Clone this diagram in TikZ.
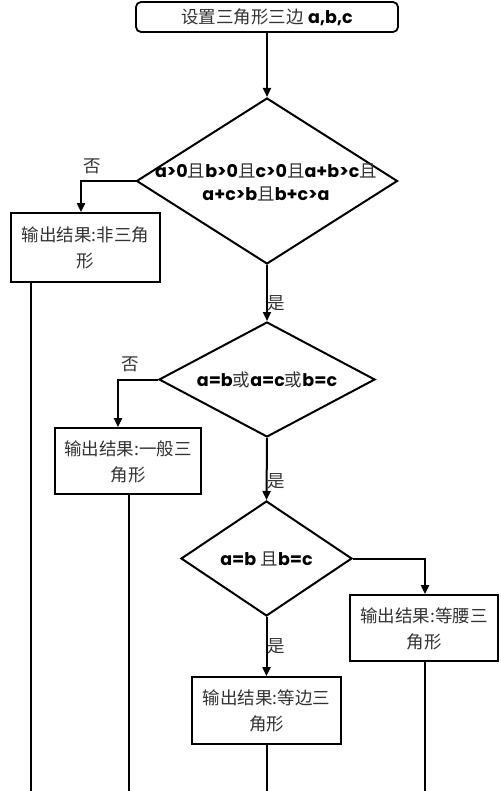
\documentclass[tikz,border=0pt]{standalone}
\usepackage{fontspec}
\setmainfont{Liberation Serif}
\newfontfamily\cjk{Noto Sans CJK SC}
\newfontfamily\lat{Poppins}
\usetikzlibrary{shapes.geometric,arrows.meta,calc}
\definecolor{txt}{HTML}{333333}
\tikzset{
  line/.style={line width=2pt, draw=black},
  arr/.style={line/.try, -{Triangle[length=9pt,width=8pt]}},
  boxnode/.style={draw=black, line width=1.8pt, rectangle, inner sep=0pt},
  dia/.style={draw=black, line width=2pt, diamond, inner sep=0pt},
  lbl/.style={font=\cjk\fontsize{17.5}{26}\selectfont, text=txt, align=center},
  dtext/.style={font=\fontsize{17.5}{23}\selectfont, align=center, text=black},
}
\newcommand{\B}[1]{{\lat\bfseries #1}}
\newcommand{\C}[1]{{\cjk\color{txt}#1}}
\begin{document}
\begin{tikzpicture}[x=1pt,y=-1pt]
\useasboundingbox (0,0) rectangle (500,791);
\fill[white] (0,0) rectangle (500,791);

% start box
\node[boxnode, rounded corners=5pt, minimum width=262pt, minimum height=30pt] (start) at (267,17) {};
\node[font=\fontsize{17.5}{20}\selectfont] (starttxt) at (267,17) {\C{设置三角形三边} \B{a,b,c}};

% diamond 1
\node[dia, minimum width=261pt, minimum height=166pt] (d1) at (267,181) {};
\node[dtext] (d1t) at (266,182) {\B{a>0}\C{且}\B{b>0}\C{且}\B{c>0}\C{且}\B{a+b>c}\C{且}\\\B{a+c>b}\C{且}\B{b+c>a}};

% box 1
\node[boxnode, minimum width=149pt, minimum height=69pt] (b1) at (85.5,247.5) {};
\node[lbl] (b1t) at (85.5,248) {输出结果:非三角\\形};

% diamond 2
\node[dia, minimum width=216pt, minimum height=115pt] (d2) at (267,379.5) {};
\node[dtext] (d2t) at (267,380) {\B{a=b}\C{或}\B{a=c}\C{或}\B{b=c}};

% box 2
\node[boxnode, minimum width=146pt, minimum height=66pt] (b2) at (128,461) {};
\node[lbl] (b2t) at (128,462) {输出结果:一般三\\角形};

% diamond 3
\node[dia, minimum width=171pt, minimum height=115pt] (d3) at (266.5,558.5) {};
\node[dtext] (d3t) at (266.5,559) {\B{a=b} \C{且}\B{b=c}};

% box 4 (isosceles)
\node[boxnode, minimum width=148pt, minimum height=66pt] (b4) at (424,628) {};
\node[lbl] (b4t) at (424,629) {输出结果:等腰三\\角形};

% box 3 (equilateral)
\node[boxnode, minimum width=149pt, minimum height=67pt] (b3) at (266.5,710.5) {};
\node[lbl] (b3t) at (266.5,711) {输出结果:等边三\\角形};

% labels
\node[lbl] (no1) at (92,166) {否};
\node[lbl] (no2) at (130,364) {否};
\node[lbl] (yes1) at (276,303) {是};
\node[lbl] (yes2) at (276,481) {是};
\node[lbl] (yes3) at (276,646) {是};

% bottom free ends
\coordinate (e1) at (31,791);
\coordinate (e2) at (129,791);
\coordinate (e3) at (267,791);
\coordinate (e4) at (425,791);

% connectors
\draw[arr] (start.south) -- (d1.north);
\draw[arr] (d1.west) -| ([xshift=-4.5pt]b1.north);
\draw[arr] (d1.south) -- (d2.north);
\draw[arr] (d2.west) -| ([xshift=-10pt]b2.north);
\draw[arr] (d2.south) -- (d3.north);
\draw[arr] (d3.east) -| ([xshift=1pt]b4.north);
\draw[arr] (d3.south) -- (b3.north);
\draw[line] (b1.south -| e1) -- (e1);
\draw[line] (b2.south -| e2) -- (e2);
\draw[line] (b3.south -| e3) -- (e3);
\draw[line] (b4.south -| e4) -- (e4);
\end{tikzpicture}
\end{document}
